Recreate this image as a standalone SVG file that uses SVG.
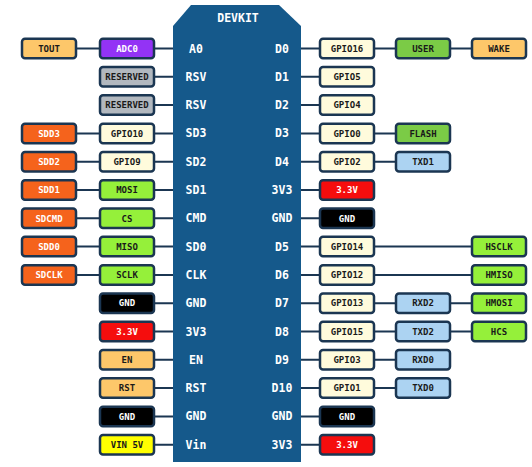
<svg xmlns="http://www.w3.org/2000/svg" width="532" height="467" viewBox="0 0 532 467">
<style>
.b{stroke:#1b3652;stroke-width:2.5}
.t{font-family:"DejaVu Sans Mono","Liberation Mono",monospace;font-weight:bold;font-size:9px;text-anchor:middle;fill:#1a1a1a}
.w{fill:#ffffff}
.c{font-family:"DejaVu Sans Mono","Liberation Mono",monospace;font-weight:bold;font-size:11.5px;text-anchor:middle;fill:#ffffff}
.ln{stroke:#1b3652;stroke-width:2;fill:none}
.or{fill:#fdc76a}.pu{fill:#9333f5}.gr{fill:#b2b8bf}.cr{fill:#fffbdc}.sd{fill:#f5631c}.lm{fill:#95f03a}.mg{fill:#7bcb46}.bl{fill:#acd3f2}.rd{fill:#f50d0d}.bk{fill:#000000}.ye{fill:#ffff00}
</style>
<rect width="532" height="467" fill="#ffffff"/>
<g id="connectors">
<path class="ln" d="M77 48.5H99M154 48.5H173M154 76.8H173M154 105.1H173M77 133.4H99M154 133.4H173M77 161.7H99M154 161.7H173M77 190H99M154 190H173M77 218.3H99M154 218.3H173M77 246.6H99M154 246.6H173M77 274.9H99M154 274.9H173M154 303.2H173M154 331.5H173M154 359.8H173M154 388.1H173M154 416.4H173M154 444.7H173"/>
<path class="ln" d="M301 48.5H320M374 48.5H396M450 48.5H472M301 76.8H320M301 105.1H320M301 133.4H320M374 133.4H396M301 161.7H320M374 161.7H396M301 190H320M301 218.3H320M301 246.6H320M374 246.6H472M301 274.9H320M374 274.9H472M301 303.2H320M374 303.2H396M450 303.2H472M301 331.5H320M374 331.5H396M450 331.5H472M301 359.8H320M374 359.8H396M301 388.1H320M374 388.1H396M301 416.4H320M301 444.7H320"/>
</g>
<g id="chip">
<polygon points="173,26 191,5 279,5 301,26 301,462 173,462" fill="#15598b"/>
<text class="c" x="238" y="22">DEVKIT</text>
<text class="c" x="196" y="52.5">A0</text><text class="c" x="282" y="52.5">D0</text>
<text class="c" x="196" y="80.8">RSV</text><text class="c" x="282" y="80.8">D1</text>
<text class="c" x="196" y="109.1">RSV</text><text class="c" x="282" y="109.1">D2</text>
<text class="c" x="196" y="137.4">SD3</text><text class="c" x="282" y="137.4">D3</text>
<text class="c" x="196" y="165.7">SD2</text><text class="c" x="282" y="165.7">D4</text>
<text class="c" x="196" y="194">SD1</text><text class="c" x="282" y="194">3V3</text>
<text class="c" x="196" y="222.3">CMD</text><text class="c" x="282" y="222.3">GND</text>
<text class="c" x="196" y="250.6">SD0</text><text class="c" x="282" y="250.6">D5</text>
<text class="c" x="196" y="278.9">CLK</text><text class="c" x="282" y="278.9">D6</text>
<text class="c" x="196" y="307.2">GND</text><text class="c" x="282" y="307.2">D7</text>
<text class="c" x="196" y="335.5">3V3</text><text class="c" x="282" y="335.5">D8</text>
<text class="c" x="196" y="363.8">EN</text><text class="c" x="282" y="363.8">D9</text>
<text class="c" x="196" y="392.1">RST</text><text class="c" x="282" y="392.1">D10</text>
<text class="c" x="196" y="420.4">GND</text><text class="c" x="282" y="420.4">GND</text>
<text class="c" x="196" y="448.7">Vin</text><text class="c" x="282" y="448.7">3V3</text>
</g>
<g id="tout"><rect class="b or" x="22" y="38.75" width="54" height="19.5" rx="3"/><text class="t" x="49" y="51.7">TOUT</text></g>
<g id="sdd3"><rect class="b sd" x="22" y="123.65" width="54" height="19.5" rx="3"/><text class="t w" x="49" y="136.6">SDD3</text></g>
<g id="sdd2"><rect class="b sd" x="22" y="151.95" width="54" height="19.5" rx="3"/><text class="t w" x="49" y="164.9">SDD2</text></g>
<g id="sdd1"><rect class="b sd" x="22" y="180.25" width="54" height="19.5" rx="3"/><text class="t w" x="49" y="193.2">SDD1</text></g>
<g id="sdcmd"><rect class="b sd" x="22" y="208.55" width="54" height="19.5" rx="3"/><text class="t w" x="49" y="221.5">SDCMD</text></g>
<g id="sdd0"><rect class="b sd" x="22" y="236.85" width="54" height="19.5" rx="3"/><text class="t w" x="49" y="249.8">SDD0</text></g>
<g id="sdclk"><rect class="b sd" x="22" y="265.15" width="54" height="19.5" rx="3"/><text class="t w" x="49" y="278.1">SDCLK</text></g>
<g id="adc0"><rect class="b pu" x="100" y="38.75" width="54" height="19.5" rx="3"/><text class="t w" x="127" y="51.7">ADC0</text></g>
<g id="reserved1"><rect class="b gr" x="100" y="67.05" width="54" height="19.5" rx="3"/><text class="t" x="127" y="80">RESERVED</text></g>
<g id="reserved2"><rect class="b gr" x="100" y="95.35" width="54" height="19.5" rx="3"/><text class="t" x="127" y="108.3">RESERVED</text></g>
<g id="gpio10"><rect class="b cr" x="100" y="123.65" width="54" height="19.5" rx="3"/><text class="t" x="127" y="136.6">GPIO10</text></g>
<g id="gpio9"><rect class="b cr" x="100" y="151.95" width="54" height="19.5" rx="3"/><text class="t" x="127" y="164.9">GPIO9</text></g>
<g id="mosi"><rect class="b lm" x="100" y="180.25" width="54" height="19.5" rx="3"/><text class="t" x="127" y="193.2">MOSI</text></g>
<g id="cs"><rect class="b lm" x="100" y="208.55" width="54" height="19.5" rx="3"/><text class="t" x="127" y="221.5">CS</text></g>
<g id="miso"><rect class="b lm" x="100" y="236.85" width="54" height="19.5" rx="3"/><text class="t" x="127" y="249.8">MISO</text></g>
<g id="sclk"><rect class="b lm" x="100" y="265.15" width="54" height="19.5" rx="3"/><text class="t" x="127" y="278.1">SCLK</text></g>
<g id="gnd-l1"><rect class="b bk" x="100" y="293.45" width="54" height="19.5" rx="3"/><text class="t w" x="127" y="306.4">GND</text></g>
<g id="v33-l"><rect class="b rd" x="100" y="321.75" width="54" height="19.5" rx="3"/><text class="t w" x="127" y="334.7">3.3V</text></g>
<g id="en"><rect class="b or" x="100" y="350.05" width="54" height="19.5" rx="3"/><text class="t" x="127" y="363">EN</text></g>
<g id="rst"><rect class="b or" x="100" y="378.35" width="54" height="19.5" rx="3"/><text class="t" x="127" y="391.3">RST</text></g>
<g id="gnd-l2"><rect class="b bk" x="100" y="406.65" width="54" height="19.5" rx="3"/><text class="t w" x="127" y="419.6">GND</text></g>
<g id="vin5v"><rect class="b ye" x="100" y="434.95" width="54" height="19.5" rx="3"/><text class="t" x="127" y="447.9">VIN 5V</text></g>
<g id="gpio16"><rect class="b cr" x="320" y="38.75" width="54" height="19.5" rx="3"/><text class="t" x="347" y="51.7">GPIO16</text></g>
<g id="gpio5"><rect class="b cr" x="320" y="67.05" width="54" height="19.5" rx="3"/><text class="t" x="347" y="80">GPIO5</text></g>
<g id="gpio4"><rect class="b cr" x="320" y="95.35" width="54" height="19.5" rx="3"/><text class="t" x="347" y="108.3">GPIO4</text></g>
<g id="gpio0"><rect class="b cr" x="320" y="123.65" width="54" height="19.5" rx="3"/><text class="t" x="347" y="136.6">GPIO0</text></g>
<g id="gpio2"><rect class="b cr" x="320" y="151.95" width="54" height="19.5" rx="3"/><text class="t" x="347" y="164.9">GPIO2</text></g>
<g id="v33-r1"><rect class="b rd" x="320" y="180.25" width="54" height="19.5" rx="3"/><text class="t w" x="347" y="193.2">3.3V</text></g>
<g id="gnd-r1"><rect class="b bk" x="320" y="208.55" width="54" height="19.5" rx="3"/><text class="t w" x="347" y="221.5">GND</text></g>
<g id="gpio14"><rect class="b cr" x="320" y="236.85" width="54" height="19.5" rx="3"/><text class="t" x="347" y="249.8">GPIO14</text></g>
<g id="gpio12"><rect class="b cr" x="320" y="265.15" width="54" height="19.5" rx="3"/><text class="t" x="347" y="278.1">GPIO12</text></g>
<g id="gpio13"><rect class="b cr" x="320" y="293.45" width="54" height="19.5" rx="3"/><text class="t" x="347" y="306.4">GPIO13</text></g>
<g id="gpio15"><rect class="b cr" x="320" y="321.75" width="54" height="19.5" rx="3"/><text class="t" x="347" y="334.7">GPIO15</text></g>
<g id="gpio3"><rect class="b cr" x="320" y="350.05" width="54" height="19.5" rx="3"/><text class="t" x="347" y="363">GPIO3</text></g>
<g id="gpio1"><rect class="b cr" x="320" y="378.35" width="54" height="19.5" rx="3"/><text class="t" x="347" y="391.3">GPIO1</text></g>
<g id="gnd-r2"><rect class="b bk" x="320" y="406.65" width="54" height="19.5" rx="3"/><text class="t w" x="347" y="419.6">GND</text></g>
<g id="v33-r2"><rect class="b rd" x="320" y="434.95" width="54" height="19.5" rx="3"/><text class="t w" x="347" y="447.9">3.3V</text></g>
<g id="user"><rect class="b mg" x="396" y="38.75" width="54" height="19.5" rx="3"/><text class="t" x="423" y="51.7">USER</text></g>
<g id="flash"><rect class="b mg" x="396" y="123.65" width="54" height="19.5" rx="3"/><text class="t" x="423" y="136.6">FLASH</text></g>
<g id="txd1"><rect class="b bl" x="396" y="151.95" width="54" height="19.5" rx="3"/><text class="t" x="423" y="164.9">TXD1</text></g>
<g id="rxd2"><rect class="b bl" x="396" y="293.45" width="54" height="19.5" rx="3"/><text class="t" x="423" y="306.4">RXD2</text></g>
<g id="txd2"><rect class="b bl" x="396" y="321.75" width="54" height="19.5" rx="3"/><text class="t" x="423" y="334.7">TXD2</text></g>
<g id="rxd0"><rect class="b bl" x="396" y="350.05" width="54" height="19.5" rx="3"/><text class="t" x="423" y="363">RXD0</text></g>
<g id="txd0"><rect class="b bl" x="396" y="378.35" width="54" height="19.5" rx="3"/><text class="t" x="423" y="391.3">TXD0</text></g>
<g id="wake"><rect class="b or" x="472" y="38.75" width="54" height="19.5" rx="3"/><text class="t" x="499" y="51.7">WAKE</text></g>
<g id="hsclk"><rect class="b lm" x="472" y="236.85" width="54" height="19.5" rx="3"/><text class="t" x="499" y="249.8">HSCLK</text></g>
<g id="hmiso"><rect class="b lm" x="472" y="265.15" width="54" height="19.5" rx="3"/><text class="t" x="499" y="278.1">HMISO</text></g>
<g id="hmosi"><rect class="b lm" x="472" y="293.45" width="54" height="19.5" rx="3"/><text class="t" x="499" y="306.4">HMOSI</text></g>
<g id="hcs"><rect class="b lm" x="472" y="321.75" width="54" height="19.5" rx="3"/><text class="t" x="499" y="334.7">HCS</text></g>
</svg>
